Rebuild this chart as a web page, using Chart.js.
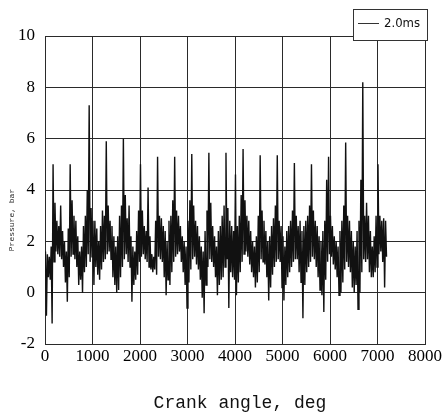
<!DOCTYPE html>
<html>
<head>
<meta charset="utf-8">
<script src="https://cdn.jsdelivr.net/npm/chart.js@4"></script>
<style>
  html, body { margin: 0; padding: 0; background: #fff; }
  #wrap { width: 442px; height: 413px; position: relative; }
</style>
</head>
<body>
<div id="wrap"><canvas id="chart" width="442" height="413"></canvas></div>
<script>
// ---- DATA (40 deg bins, 0..7200 deg) ----
const BIN_DEG = 40;
const seriesLabel = "2.0ms";
const xTicks = [0, 1000, 2000, 3000, 4000, 5000, 6000, 7000, 8000];
const yTicks = [-2, 0, 2, 4, 6, 8, 10];

// upper envelope of each bin (bar)
const binHigh = [
  1.6, 1.5, 1.4, 1.8, 5.0, 3.5, 2.8, 2.6, 3.4, 2.4,
  2.0, 1.6, 2.5, 5.0, 3.6, 3.0, 2.8, 2.2, 1.6, 1.8,
  2.6, 3.0, 4.0, 7.3, 3.3, 2.8, 2.8, 2.5, 2.0, 2.6,
  3.2, 3.0, 5.9, 3.4, 2.8, 2.6, 2.2, 1.8, 2.2, 3.0,
  3.4, 6.0, 3.8, 2.9, 3.4, 2.2, 1.8, 1.6, 2.4, 3.2,
  5.0, 3.2, 2.6, 2.4, 4.1, 2.2, 1.5, 1.4, 2.8, 5.3,
  3.0, 2.9, 2.6, 2.4, 2.0, 2.8, 3.0, 3.6, 5.3, 3.2,
  3.0, 2.6, 2.2, 2.0, 1.8, 2.8, 3.6, 5.4, 3.4, 2.8,
  2.6, 2.2, 1.8, 1.6, 2.4, 3.2, 5.45, 3.5, 2.6, 2.2,
  1.8, 2.4, 2.6, 3.0, 3.4, 5.45, 3.3, 2.8, 2.6, 2.4,
  4.6, 2.6, 3.0, 3.8, 5.6, 3.6, 3.0, 2.8, 2.4, 2.0,
  1.8, 2.2, 3.0, 5.35, 3.2, 2.8, 2.4, 2.0, 2.2, 2.6,
  2.9, 3.4, 5.35, 2.8, 2.6, 2.2, 1.8, 2.4, 2.6, 2.8,
  3.2, 5.05, 3.0, 2.6, 2.8, 2.4, 2.6, 2.8, 3.0, 3.4,
  5.0, 3.2, 2.8, 2.6, 2.2, 2.0, 2.4, 2.8, 4.4, 5.3,
  3.0, 2.6, 2.2, 2.0, 1.8, 2.4, 2.8, 3.4, 5.85, 3.0,
  2.8, 2.4, 2.0, 1.8, 2.4, 2.8, 4.4, 8.2, 3.0, 3.5,
  3.0, 2.4, 1.8, 2.2, 3.0, 5.0, 3.0, 2.8, 2.9, 2.8
];

// lower envelope of each bin (bar)
const binLow = [
  -0.9, 0.6, 0.5, -1.2, 1.2, 1.6, 1.5, 1.4, 1.3, 1.0,
  0.4, -0.35, 0.6, 1.4, 1.5, 1.3, 1.0, 0.3, 0.5, 0.0,
  0.8, 1.0, 1.5, 1.2, 1.4, 0.3, 1.0, 0.7, 0.5, 0.9,
  1.2, 1.3, 1.5, 1.6, 1.3, 0.6, 0.3, 0.0, 0.1, 0.6,
  1.0, 1.3, 1.5, 1.2, 1.0, -0.35, 0.3, 0.5, 0.7, 1.2,
  1.4, 1.5, 1.3, 1.2, 1.0, 0.9, 0.8, 0.9, 0.7, 1.4,
  1.3, 1.2, 0.6, -0.1, 0.5, 0.3, 0.8, 1.2, 1.4, 1.5,
  1.6, 1.2, 0.8, 0.3, -0.6, 0.4, 0.9, 1.3, 1.4, 1.1,
  0.9, 0.5, -0.2, -0.8, 0.3, 1.0, 1.3, 1.2, 1.0, 0.6,
  -0.1, 0.3, 0.5, 0.6, 1.0, 1.3, -0.6, 0.8, 0.6, 0.5,
  -0.1, 0.4, 0.8, 1.2, 1.5, 1.6, 1.4, 1.1, 0.8, 0.6,
  0.2, 0.4, 0.8, 1.3, 1.2, 1.1, 0.6, -0.3, 0.2, 0.7,
  1.0, 1.2, 1.3, 1.2, 0.2, -0.3, 0.3, 0.6, 0.8, 1.0,
  1.2, 1.3, 1.3, 0.8, 0.4, -1.0, 0.3, 0.8, 1.0, 1.2,
  1.4, 1.3, 1.0, 0.6, 0.1, -0.1, -0.75, 0.5, 1.2, 1.5,
  1.4, 1.1, 0.9, 0.6, -0.1, 0.0, 0.4, 0.9, 1.2, 1.0,
  0.8, 0.2, 0.0, 0.3, -0.65, 0.0, 0.8, 1.3, 1.2, 1.3,
  0.8, 0.6, 0.6, 0.8, 1.0, 1.5, 1.6, 1.2, 0.2, 1.4
];

// zig-zag trace: high then low inside every bin
const trace = [];
binHigh.forEach((h, i) => {
  trace.push({ x: i * BIN_DEG + BIN_DEG * 0.25, y: h });
  trace.push({ x: i * BIN_DEG + BIN_DEG * 0.75, y: binLow[i] });
});

const GRID = "#2a2a2a";
const TICK_FONT = { family: "'Liberation Serif', 'DejaVu Serif Condensed', serif", size: 17 };

// ---- extra drawing: axis titles + boxed legend ----
const decorations = {
  id: "decorations",
  afterDraw(chart) {
    const ctx = chart.ctx;
    ctx.save();
    // y title
    ctx.translate(12, 220);
    ctx.rotate(-Math.PI / 2);
    ctx.fillStyle = "#222";
    ctx.font = "8px 'Liberation Mono', monospace";
    ctx.textAlign = "center";
    ctx.textBaseline = "middle";
    ctx.fillText("Pressure, bar", 0, 0);
    ctx.restore();

    ctx.save();
    ctx.fillStyle = "#111";
    ctx.font = "18px 'Liberation Mono', monospace";
    ctx.textAlign = "center";
    ctx.textBaseline = "middle";
    ctx.fillText("Crank angle, deg", 240, 403);
    ctx.restore();

    // legend box
    ctx.save();
    ctx.fillStyle = "#fff";
    ctx.fillRect(353, 9, 74, 31);
    ctx.strokeStyle = "#333";
    ctx.lineWidth = 1;
    ctx.strokeRect(353.5, 9.5, 74, 31);
    ctx.beginPath();
    ctx.moveTo(358, 23.5);
    ctx.lineTo(379, 23.5);
    ctx.stroke();
    ctx.fillStyle = "#111";
    ctx.font = "13px 'DejaVu Sans Condensed', 'Liberation Sans Narrow', sans-serif";
    ctx.textAlign = "left";
    ctx.textBaseline = "middle";
    ctx.fillText(seriesLabel, 384, 24);
    ctx.restore();
  }
};

new Chart(document.getElementById("chart"), {
  type: "line",
  data: {
    datasets: [{
      label: seriesLabel,
      data: trace,
      borderColor: "#111",
      borderWidth: 1.4,
      pointRadius: 0,
      tension: 0
    }]
  },
  options: {
    responsive: false,
    animation: false,
    layout: { padding: { left: 0, right: 17, top: 36, bottom: 0 } },
    plugins: { legend: { display: false }, tooltip: { enabled: false } },
    scales: {
      x: {
        type: "linear",
        min: 0, max: 8000,
        afterBuildTicks: s => { s.ticks = xTicks.map(v => ({ value: v })); },
        afterFit: s => { s.height = 69; s.paddingLeft = 0; s.paddingRight = 0; },
        grid: { color: GRID, lineWidth: 1, drawTicks: false },
        border: { color: GRID, width: 1 },
        ticks: { color: "#000", font: TICK_FONT, padding: 2, maxRotation: 0, callback: v => String(v) }
      },
      y: {
        min: -2, max: 10,
        afterBuildTicks: s => { s.ticks = yTicks.map(v => ({ value: v })); },
        afterFit: s => { s.width = 45; s.paddingTop = 0; s.paddingBottom = 0; },
        grid: { color: GRID, lineWidth: 1, drawTicks: false },
        border: { color: GRID, width: 1 },
        ticks: { color: "#000", font: TICK_FONT, padding: 10, callback: v => String(v) }
      }
    }
  },
  plugins: [decorations]
});
</script>
</body>
</html>
